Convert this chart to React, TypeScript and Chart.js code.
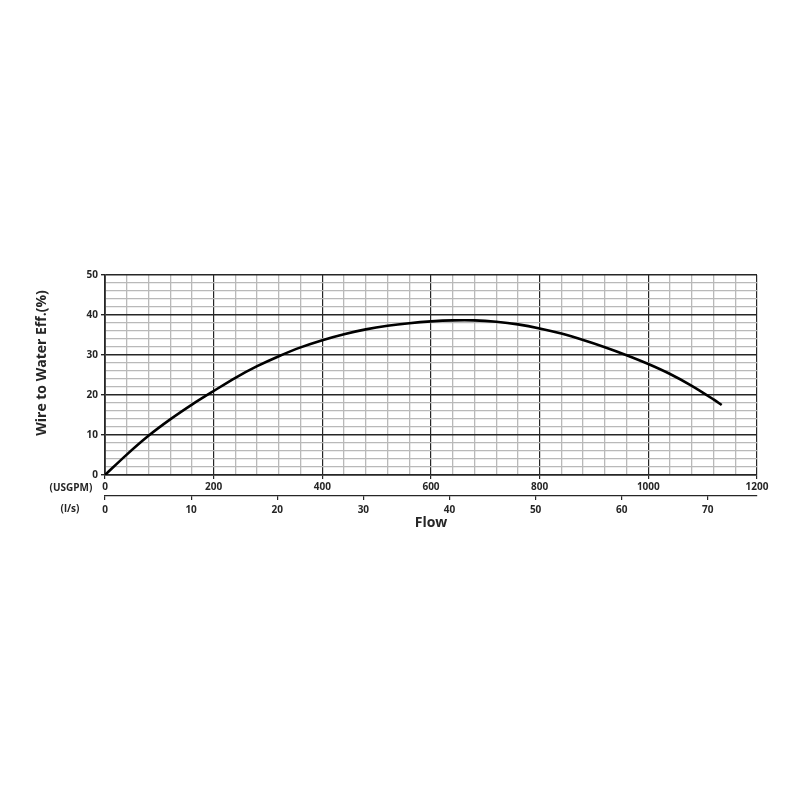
import React, { useEffect, useRef } from "react";
import { Chart, registerables } from "chart.js";

Chart.register(...registerables);

const flowUsgpm = [0, 40, 80, 120, 160, 200, 240, 280, 320, 360, 400, 440, 480, 520, 560, 600, 640, 680, 720, 760, 800, 840, 880, 920, 960, 1000, 1040, 1080, 1120, 1135];
const efficiency = [0, 5.1, 9.8, 13.9, 17.6, 21.0, 24.3, 27.2, 29.7, 31.9, 33.7, 35.2, 36.4, 37.3, 37.95, 38.4, 38.65, 38.65, 38.3, 37.65, 36.65, 35.35, 33.75, 31.95, 29.95, 27.75, 25.25, 22.3, 18.9, 17.5];

const usgpmMax = 1200;
const usgpmMajor = 200;
const usgpmMinor = 40;
const effMax = 50;
const effMajor = 10;
const effMinor = 2;
const lpsStep = 10;
const usgpmPerLps = 15.8503;

const yTitle = "Wire to Water Eff.(%)";
const xTitle = "Flow";
const unitTop = "(USGPM)";
const unitBottom = "(l/s)";

const FONT = "'Open Sans', 'DejaVu Sans', sans-serif";
const DARK = "#262626";
const LIGHT = "#b9b9b9";

export default function App() {
  const ref = useRef<HTMLCanvasElement | null>(null);

  useEffect(() => {
    if (!ref.current) return;
    const labelsPlugin = {
      id: "sideLabels",
      afterDraw(chart: any) {
        const c = chart.ctx;
        const area = chart.chartArea;
        c.save();
        c.fillStyle = DARK;
        c.font = `bold 10px ${FONT}`;
        c.textAlign = "center";
        c.textBaseline = "middle";
        c.fillText(unitTop, 71, area.bottom + 13);
        c.fillText(unitBottom, 70, area.bottom + 34);
        c.translate(42, area.top + (area.bottom - area.top) / 2 - 12);
        c.rotate(-Math.PI / 2);
        c.font = `bold 14px ${FONT}`;
        c.fillText(yTitle, 0, 0);
        c.restore();
      },
    };

    const isMajorX = (ctx: any) => ctx.tick && Math.round(ctx.tick.value) % usgpmMajor === 0;
    const isMajorY = (ctx: any) => ctx.tick && Math.round(ctx.tick.value) % effMajor === 0;

    const chart = new Chart(ref.current, {
      type: "line",
      data: {
        labels: flowUsgpm,
        datasets: [
          {
            data: flowUsgpm.map((x, i) => ({ x, y: efficiency[i] })),
            borderColor: "#000",
            borderWidth: 2.6,
            pointRadius: 0,
            tension: 0.3,
            fill: false,
            xAxisID: "x",
            yAxisID: "y",
          },
        ],
      },
      options: {
        animation: false,
        responsive: false,
        layout: { padding: { left: 0, right: 43, top: 275, bottom: 269 } },
        plugins: { legend: { display: false }, tooltip: { enabled: false } },
        scales: {
          x: {
            type: "linear",
            position: "bottom",
            min: 0,
            max: usgpmMax,
            afterFit: (s: any) => { s.height = 21; },
            ticks: {
              stepSize: usgpmMinor,
              autoSkip: false,
              maxRotation: 0,
              padding: 2,
              color: DARK,
              font: { family: FONT, size: 10, weight: "bold" },
              callback: (v: any) => (Math.round(v) % usgpmMajor === 0 ? String(v) : ""),
            },
            grid: {
              color: (ctx: any) => (isMajorX(ctx) ? DARK : LIGHT),
              lineWidth: (ctx: any) => (isMajorX(ctx) ? 1.2 : 1.3),
              tickColor: (ctx: any) => (isMajorX(ctx) ? DARK : "rgba(0,0,0,0)"),
              tickLength: 4,
            },
            border: { display: true, color: DARK, width: 1.5 },
          },
          x2: {
            type: "linear",
            axis: "x",
            position: "bottom",
            min: 0,
            max: usgpmMax / usgpmPerLps,
            afterFit: (s: any) => { s.height = 35; },
            ticks: {
              stepSize: lpsStep,
              includeBounds: false,
              autoSkip: false,
              maxRotation: 0,
              padding: 4,
              color: DARK,
              font: { family: FONT, size: 10, weight: "bold" },
            },
            grid: { drawOnChartArea: false, color: DARK, tickColor: DARK, tickLength: 4, lineWidth: 1.2 },
            border: { display: true, color: DARK, width: 1.2 },
            title: {
              display: true,
              text: xTitle,
              color: DARK,
              font: { family: FONT, size: 14, weight: "bold" },
              padding: { top: 0, bottom: 0 },
            },
          },
          y: {
            type: "linear",
            position: "left",
            min: 0,
            max: effMax,
            afterFit: (s: any) => { s.width = 105; },
            ticks: {
              stepSize: effMinor,
              autoSkip: false,
              padding: 3,
              color: DARK,
              font: { family: FONT, size: 10, weight: "bold" },
              callback: (v: any) => (Math.round(v) % effMajor === 0 ? String(v) : ""),
            },
            grid: {
              color: (ctx: any) => (isMajorY(ctx) ? DARK : LIGHT),
              lineWidth: (ctx: any) => (isMajorY(ctx) ? 1.4 : 1.3),
              tickColor: (ctx: any) => (isMajorY(ctx) ? DARK : "rgba(0,0,0,0)"),
              tickLength: 4,
            },
            border: { display: true, color: DARK, width: 1.8 },
          },
        },
      },
      plugins: [labelsPlugin],
    } as any);
    return () => chart.destroy();
  }, []);

  return (
    <div style={{ position: "absolute", left: 0, top: 0, width: 800, height: 800, background: "#fff" }}>
      <canvas ref={ref} width={800} height={800} style={{ display: "block", width: 800, height: 800 }} />
    </div>
  );
}
